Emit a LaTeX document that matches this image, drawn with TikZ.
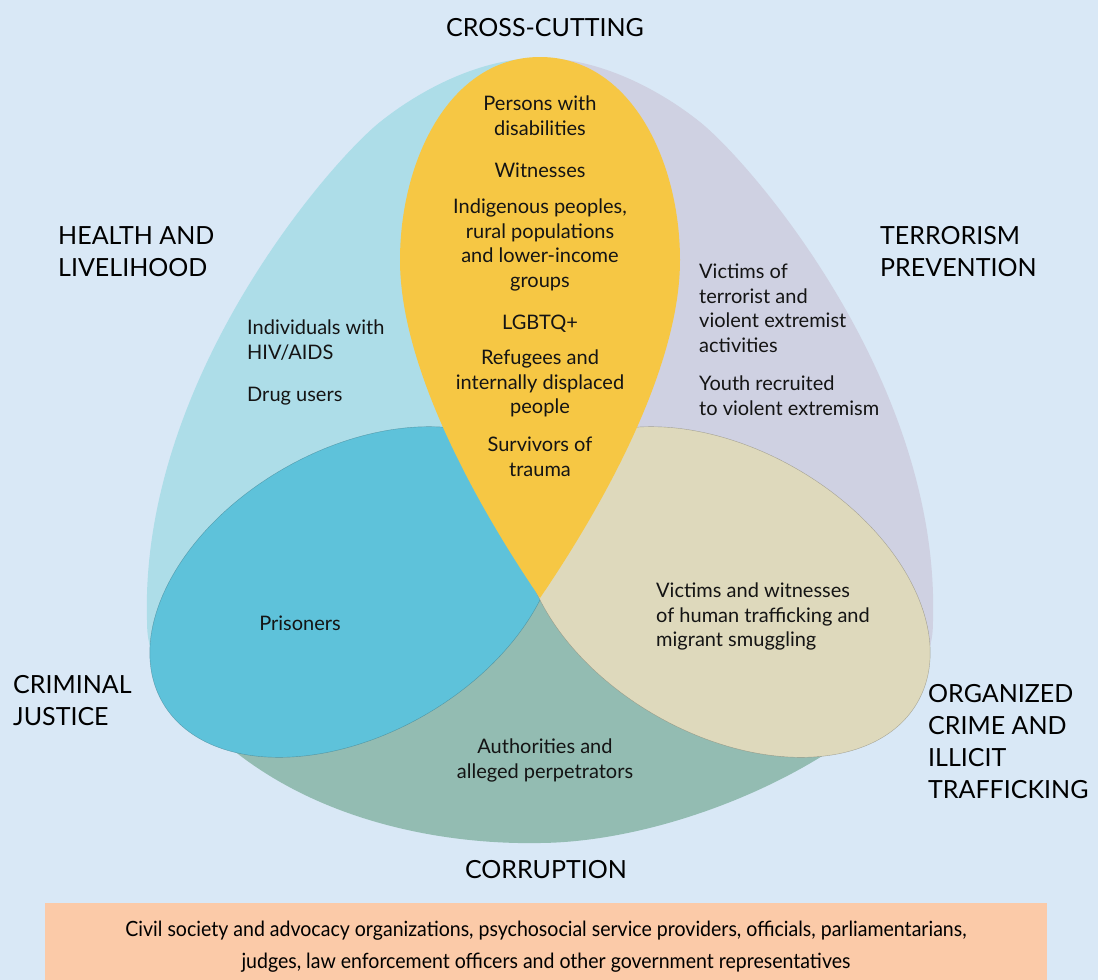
\documentclass[tikz,border=0pt]{standalone}
\usepackage{fontspec}
\setmainfont{Lato}
\newfontfamily\narrowfont{Lato}[FakeStretch=0.93]
\definecolor{pagebg}{HTML}{D9E8F6}
\definecolor{healthcyan}{HTML}{ADDDE8}
\definecolor{terrorlav}{HTML}{CFD1E2}
\definecolor{crossyellow}{HTML}{F6C744}
\definecolor{justiceblue}{HTML}{5EC2DA}
\definecolor{crimebeige}{HTML}{DED9BC}
\definecolor{corrteal}{HTML}{93BCB2}
\definecolor{actorpeach}{HTML}{FBCAA8}
\begin{document}
\begin{tikzpicture}[x=1pt,y=-1pt,
  titletext/.style={font=\fontsize{25}{32}\selectfont, inner sep=0pt, execute at begin node=\strut, text=black},
  bodytext/.style={font=\fontsize{20}{24.5}\selectfont, inner sep=0pt, execute at begin node=\strut, text=black!92},
  boxtext/.style={font=\narrowfont\fontsize{21}{32}\selectfont, inner sep=0pt, execute at begin node=\strut, text=black, align=center},
  rim/.style={line width=0.4pt, draw opacity=0.55}]
\useasboundingbox (0,0) rectangle (1098,980);
\fill[pagebg] (0,0) rectangle (1098,980);

% outer field: health (left) and terrorism (right)
\fill[healthcyan] (540,58) .. controls (480,58) and (420,90) .. (380,122)
  .. controls (330,162) and (140,380) .. (147,620)
  .. controls (147,640) and (150,650) .. (158,665) -- (540,600) -- cycle;
\fill[terrorlav] (540,58) .. controls (600,58) and (660,90) .. (700,122)
  .. controls (750,162) and (940,380) .. (933,620)
  .. controls (933,640) and (930,650) .. (922,665) -- (540,600) -- cycle;

% corruption, below the two ellipses
\fill[corrteal] (205,725) .. controls (300,820) and (440,845) .. (540,843)
  .. controls (650,842) and (790,790) .. (875,718) -- (540,590) -- cycle;

% criminal justice and organized crime ellipses
\filldraw[fill=justiceblue, draw=justiceblue!60!black, rim, rotate around={30:(354,592)}]
  (354,592) ellipse [x radius=221pt, y radius=142pt];
\filldraw[fill=crimebeige, draw=crimebeige!55!black, rim, rotate around={-30:(726,592)}]
  (726,592) ellipse [x radius=221pt, y radius=142pt];

% cross-cutting drop
\fill[crossyellow] (540,57) .. controls (450,57) and (400,160) .. (400,260)
  .. controls (400,370) and (480,510) .. (540,598)
  .. controls (600,510) and (680,370) .. (680,260)
  .. controls (680,160) and (630,57) .. (540,57) -- cycle;

% area titles
\node[titletext, anchor=north] (tcross) at (545,13.6) {CROSS-CUTTING};
\node[titletext, anchor=north west, align=left] (thealth) at (58,226.6) {HEALTH AND\\LIVELIHOOD};
\node[titletext, anchor=north west, align=left] (tterror) at (880,226.6) {TERRORISM\\PREVENTION};
\node[titletext, anchor=north west, align=left] (tjustice) at (13,675.6) {CRIMINAL\\JUSTICE};
\node[titletext, anchor=north west, align=left] (tcrime) at (928,684.6) {ORGANIZED\\CRIME AND\\ILLICIT\\TRAFFICKING};
\node[titletext, anchor=north] (tcorr) at (546,855.6) {CORRUPTION};

% groups in the cross-cutting drop
\node[bodytext, anchor=north, align=center] (ydisab) at (540,96) {Persons with\\disabilities};
\node[bodytext, anchor=north, align=center] (ywitn) at (540,160) {Witnesses};
\node[bodytext, anchor=north, align=center] (yindig) at (540,199) {Indigenous peoples,\\rural populations\\and lower-income\\groups};
\node[bodytext, anchor=north, align=center] (ylgbt) at (540,312) {LGBTQ+};
\node[bodytext, anchor=north, align=center] (yrefug) at (540,350) {Refugees and\\internally displaced\\people};
\node[bodytext, anchor=north, align=center] (ytrauma) at (540,437) {Survivors of\\trauma};

% health groups
\node[bodytext, anchor=north west, align=left] (hhiv) at (247,320) {Individuals with\\HIV/AIDS};
\node[bodytext, anchor=north west, align=left] (hdrug) at (247,384) {Drug users};

% terrorism groups
\node[bodytext, anchor=north west, align=left] (vterror) at (699,264) {Victims of\\terrorist and\\violent extremist\\activities};
\node[bodytext, anchor=north west, align=left] (vyouth) at (699,376) {Youth recruited\\to violent extremism};

% justice, crime and corruption groups
\node[bodytext, anchor=north] (jprison) at (300,613) {Prisoners};
\node[bodytext, anchor=north west, align=left] (ctraff) at (656,583) {Victims and witnesses\\of human trafficking and\\migrant smuggling};
\node[bodytext, anchor=north, align=center] (cauth) at (545,739) {Authorities and\\alleged perpetrators};

% actors band
\fill[actorpeach] (45,903) rectangle (1047,980);
\node[boxtext, anchor=north] (actors) at (546,920.6) {Civil society and advocacy organizations, psychosocial service providers, officials, parliamentarians,\\judges, law enforcement officers and other government representatives};
\end{tikzpicture}
\end{document}
